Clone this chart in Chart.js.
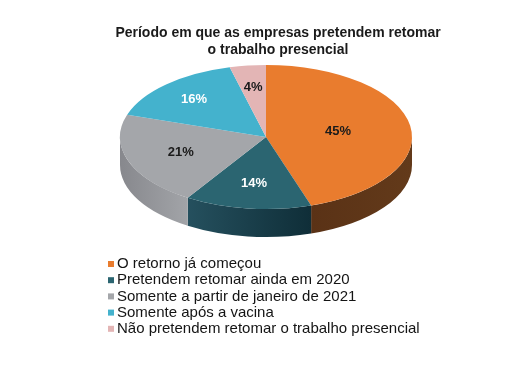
<!DOCTYPE html>
<html>
<head>
<meta charset="utf-8">
<script src="https://cdn.jsdelivr.net/npm/chart.js@4.4.1/dist/chart.umd.min.js"></script>
<style>
    html, body { margin: 0; padding: 0; background: #ffffff; }
    #wrap { width: 530px; height: 366px; }
</style>
</head>
<body>
<div id="wrap"><canvas id="chart" width="530" height="366"></canvas></div>
<script>
// dados do gráfico
let categories = [
    "O retorno já começou",
    "Pretendem retomar ainda em 2020",
    "Somente a partir de janeiro de 2021",
    "Somente após a vacina",
    "Não pretendem retomar o trabalho presencial"
];
let percentages = [45, 14, 21, 16, 4];
let titleLines = ["Período em que as empresas pretendem retomar", "o trabalho presencial"];

let colors = ["#e97c2e", "#2b6571", "#a4a6aa", "#44b2cd", "#e3b5b5"];
// lateral: [esquerda, direita]
let sideColors = [["#5a3216", "#633a1a"], ["#25505e", "#0f2e38"], ["#87888d", "#a2a4a8"], ["#2f8aa0", "#2f8aa0"], ["#b99090", "#b99090"]];
let labelColors = ["#1b1b1b", "#ffffff", "#1b1b1b", "#ffffff", "#1b1b1b"];
let labelFrac = [0.5, 0.65, 0.62, 0.72, 0.7];

// geometria da pizza "3D"
const PIE_X = 266, PIE_Y = 137, RX = 146, RY = 72, DEPTH = 28;
const FONT = "'Liberation Sans', Arial, sans-serif";

function pieTransform(chart) {
    let arc = chart.getDatasetMeta(0).data[0];
    return { cx: arc.x, cy: arc.y, r: arc.outerRadius, sx: RX / arc.outerRadius, sy: RY / arc.outerRadius };
}

let pie3d = {
    id: "pie3d",
    beforeDatasetsDraw(chart) {
        let ctx = chart.ctx;
        let t = pieTransform(chart);
        ctx.save();
        ctx.translate(PIE_X, PIE_Y);
        ctx.scale(t.sx, t.sy);
        ctx.translate(-t.cx, -t.cy);
        let d = DEPTH / t.sy;
        chart.getDatasetMeta(0).data.forEach((arc, i) => {
            let s = Math.max(arc.startAngle, 0);
            let e = Math.min(arc.endAngle, Math.PI);
            if (e <= s) return;
            let x0 = t.cx + t.r * Math.cos(s), x1 = t.cx + t.r * Math.cos(e);
            let g = ctx.createLinearGradient(Math.min(x0, x1), 0, Math.max(x0, x1), 0);
            g.addColorStop(0, sideColors[i][0]);
            g.addColorStop(1, sideColors[i][1]);
            ctx.beginPath();
            ctx.arc(t.cx, t.cy + d, t.r, s, e, false);
            ctx.arc(t.cx, t.cy, t.r, e, s, true);
            ctx.closePath();
            ctx.fillStyle = g;
            ctx.fill();
        });
    },
    afterDatasetsDraw(chart) {
        let ctx = chart.ctx;
        ctx.restore();
        ctx.save();
        ctx.font = "bold 13px " + FONT;
        ctx.textAlign = "center";
        ctx.textBaseline = "middle";
        chart.getDatasetMeta(0).data.forEach((arc, i) => {
            let mid = (arc.startAngle + arc.endAngle) / 2;
            let x = PIE_X + RX * labelFrac[i] * Math.cos(mid);
            let y = PIE_Y + RY * labelFrac[i] * Math.sin(mid);
            ctx.fillStyle = labelColors[i];
            ctx.fillText(chart.data.datasets[0].data[i] + "%", x, y);
        });
        ctx.restore();
    },
    afterDraw(chart) {
        // legenda em coluna, à esquerda
        let ctx = chart.ctx;
        ctx.save();
        ctx.font = "15px " + FONT;
        ctx.textAlign = "left";
        ctx.textBaseline = "middle";
        chart.data.labels.forEach((lbl, i) => {
            let y = 264 + i * 16.2;
            ctx.fillStyle = colors[i];
            ctx.fillRect(108, y - 3, 6, 6);
            ctx.fillStyle = "#141414";
            ctx.fillText(lbl, 117, y);
        });
        ctx.restore();
    }
};

let chart = new Chart(document.getElementById("chart").getContext("2d"), {
    type: "pie",
    data: {
        labels: categories,
        datasets: [{
            data: percentages,
            backgroundColor: colors,
            borderWidth: 0
        }]
    },
    options: {
        responsive: false,
        animation: false,
        layout: { padding: { left: 26, right: 0, top: 0, bottom: 0 } },
        plugins: {
            legend: { display: false },
            tooltip: { enabled: false },
            title: {
                display: true,
                text: titleLines,
                color: "#1a1a1a",
                font: { family: FONT, size: 14, weight: "bold", lineHeight: 1.22 },
                padding: { top: 25, bottom: 6 }
            }
        }
    },
    plugins: [pie3d]
});
</script>
</body>
</html>
